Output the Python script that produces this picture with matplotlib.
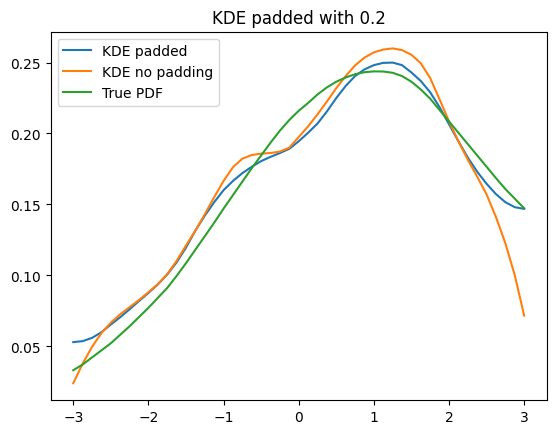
import numpy as np
import matplotlib
matplotlib.use("Agg")
import matplotlib.pyplot as plt

# values, x in steps of 0.125 from -3 to 3
x = np.arange(-3.0, 3.0001, 0.125)

kde_padded = [0.0528, 0.0535, 0.0558, 0.0598, 0.0652, 0.0704, 0.0760, 0.0818,
              0.0875, 0.0935, 0.1005, 0.1090, 0.1195, 0.1315, 0.1420, 0.1515,
              0.1600, 0.1665, 0.1720, 0.1765, 0.1805, 0.1835, 0.1862, 0.1892,
              0.1945, 0.2005, 0.2070, 0.2155, 0.2250, 0.2335, 0.2405, 0.2452,
              0.2482, 0.2498, 0.2500, 0.2482, 0.2430, 0.2370, 0.2290, 0.2185,
              0.2065, 0.1945, 0.1830, 0.1730, 0.1645, 0.1572, 0.1515, 0.1480,
              0.1468]

kde_no_pad = [0.0238, 0.0376, 0.0495, 0.0592, 0.0665, 0.0725, 0.0775, 0.0825,
              0.0880, 0.0937, 0.1007, 0.1101, 0.1210, 0.1315, 0.1430, 0.1550,
              0.1665, 0.1762, 0.1822, 0.1848, 0.1858, 0.1862, 0.1872, 0.1900,
              0.1975, 0.2050, 0.2135, 0.2225, 0.2320, 0.2405, 0.2480, 0.2535,
              0.2572, 0.2592, 0.2600, 0.2588, 0.2555, 0.2495, 0.2390, 0.2240,
              0.2085, 0.1945, 0.1815, 0.1695, 0.1570, 0.1410, 0.1225, 0.1000,
              0.0715]

true_pdf = [0.0330, 0.0370, 0.0420, 0.0470, 0.0520, 0.0580, 0.0640, 0.0705,
            0.0770, 0.0840, 0.0910, 0.0995, 0.1085, 0.1180, 0.1275, 0.1370,
            0.1470, 0.1565, 0.1660, 0.1755, 0.1845, 0.1935, 0.2020, 0.2095,
            0.2160, 0.2215, 0.2275, 0.2325, 0.2365, 0.2395, 0.2418, 0.2432,
            0.2438, 0.2437, 0.2428, 0.2405, 0.2365, 0.2310, 0.2245, 0.2165,
            0.2085, 0.2005, 0.1925, 0.1845, 0.1765, 0.1685, 0.1608, 0.1540,
            0.1472]

fig = plt.figure(figsize=(5.56, 4.35), dpi=100)
ax = fig.add_axes([0.0912, 0.0782, 0.8921, 0.8467])

ax.plot(x, kde_padded, label='KDE padded')
ax.plot(x, kde_no_pad, label='KDE no padding')
ax.plot(x, true_pdf, label='True PDF')
ax.set_title('KDE padded with 0.2')
ax.legend(loc='upper left')

fig.savefig('out.png', dpi=100)
